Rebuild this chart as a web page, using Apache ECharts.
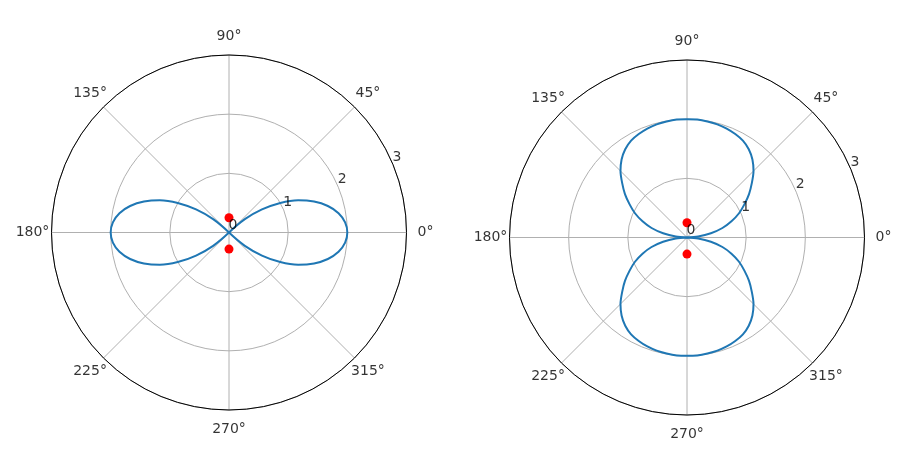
<!DOCTYPE html>
<html><head><meta charset="utf-8">
<script src="https://cdn.jsdelivr.net/npm/echarts@6/dist/echarts.min.js"></script>
<style>html,body{margin:0;padding:0;background:#fff}#c{width:900px;height:466px}</style>
</head><body><div id="c"></div>
<script>
// ---- data ----
const angleTicks = [0, 45, 90, 135, 180, 225, 270, 315];
const radiusTicks = [0, 1, 2, 3];

// left plot: two petals (theta in degrees, r)
const leftPetal1Angles = [315, 320, 325, 330, 335, 340, 345, 350, 355, 0, 5, 10, 15, 20, 25, 30, 35, 40, 45];
const leftPetal1Radii  = [0, 0.35, 0.68, 1.0, 1.29, 1.53, 1.73, 1.88, 1.97, 2.0, 1.97, 1.88, 1.73, 1.53, 1.29, 1.0, 0.68, 0.35, 0];
const leftPetal2Angles = [135, 140, 145, 150, 155, 160, 165, 170, 175, 180, 185, 190, 195, 200, 205, 210, 215, 220, 225];
const leftPetal2Radii  = [0, 0.35, 0.68, 1.0, 1.29, 1.53, 1.73, 1.88, 1.97, 2.0, 1.97, 1.88, 1.73, 1.53, 1.29, 1.0, 0.68, 0.35, 0];

// right plot: two lobes
const rightLobe1Angles = [0, 5, 10, 15, 20, 25, 30, 35, 40, 45, 50, 55, 60, 65, 70, 75, 80, 85, 90,
                          95, 100, 105, 110, 115, 120, 125, 130, 135, 140, 145, 150, 155, 160, 165, 170, 175, 180];
const rightLobe1Radii  = [0, 0.19, 0.41, 0.62, 0.80, 0.97, 1.12, 1.28, 1.43, 1.59, 1.72, 1.82, 1.89, 1.93, 1.96, 1.98, 1.99, 2.0, 2.0,
                          2.0, 1.99, 1.98, 1.96, 1.93, 1.89, 1.82, 1.72, 1.59, 1.43, 1.28, 1.12, 0.97, 0.80, 0.62, 0.41, 0.19, 0];
const rightLobe2Angles = [180, 185, 190, 195, 200, 205, 210, 215, 220, 225, 230, 235, 240, 245, 250, 255, 260, 265, 270,
                          275, 280, 285, 290, 295, 300, 305, 310, 315, 320, 325, 330, 335, 340, 345, 350, 355, 360];
const rightLobe2Radii  = [0, 0.19, 0.41, 0.62, 0.80, 0.97, 1.12, 1.28, 1.43, 1.59, 1.72, 1.82, 1.89, 1.93, 1.96, 1.98, 1.99, 2.0, 2.0,
                          2.0, 1.99, 1.98, 1.96, 1.93, 1.89, 1.82, 1.72, 1.59, 1.43, 1.28, 1.12, 0.97, 0.80, 0.62, 0.41, 0.19, 0];

// red markers (theta, r)
const dotAngles = [90, 270];
const dotRadii = [0.25, 0.28];

// ---- chart ----
const FONT = 'DejaVu Sans';
const FS = 14;
const LINE = '#1f77b4';
const GRID = '#b0b0b0';

function pairs(angles, radii) { return angles.map((a, i) => [radii[i], a]); }

function polarAxes(idx) {
  return {
    angle: {
      polarIndex: idx, type: 'value', min: 0, max: 360, interval: 45,
      startAngle: 0, clockwise: false, z: 1,
      axisLine: { show: true, lineStyle: { color: '#000', width: 1 } },
      axisTick: { show: false },
      axisLabel: { show: false },
      splitLine: { show: true, lineStyle: { color: GRID, width: 1 } }
    },
    radius: {
      polarIndex: idx, type: 'value', min: 0, max: 3, interval: 1, z: 0,
      axisLine: { show: false }, axisTick: { show: false }, axisLabel: { show: false },
      splitLine: { show: true, lineStyle: { color: GRID, width: 1 } }
    }
  };
}

const a0 = polarAxes(0), a1 = polarAxes(1);

function curve(idx, angles, radii, smooth) {
  return {
    type: 'line', coordinateSystem: 'polar', polarIndex: idx,
    data: pairs(angles, radii), showSymbol: false, smooth: smooth,
    lineStyle: { color: LINE, width: 2 }, z: 3, silent: true
  };
}

function dots(idx) {
  return {
    type: 'scatter', coordinateSystem: 'polar', polarIndex: idx,
    data: pairs(dotAngles, dotRadii), symbolSize: 9,
    itemStyle: { color: '#ff0000', opacity: 1 }, z: 4, silent: true
  };
}

function angleLabels(idx) {
  const d = 19;
  return {
    type: 'scatter', coordinateSystem: 'polar', polarIndex: idx, silent: true, z: 5,
    symbolSize: 1, itemStyle: { color: 'transparent' },
    data: angleTicks.map(a => ({
      value: [3, a],
      label: { offset: [d * Math.cos(a * Math.PI / 180), -d * Math.sin(a * Math.PI / 180)] }
    })),
    label: {
      show: true, position: 'inside', align: 'center', verticalAlign: 'middle',
      fontFamily: FONT, fontSize: FS, color: '#000',
      formatter: p => p.value[1] + '°'
    }
  };
}

function radiusLabels(idx) {
  return {
    type: 'scatter', coordinateSystem: 'polar', polarIndex: idx, silent: true, z: 5,
    symbolSize: 1, itemStyle: { color: 'transparent' },
    data: radiusTicks.map(r => [r, 22.5]),
    label: {
      show: true, position: [0, 0], align: 'left', verticalAlign: 'bottom',
      fontFamily: FONT, fontSize: FS, color: '#000',
      formatter: p => String(p.value[0])
    }
  };
}

const chart = echarts.init(document.getElementById('c'), null, { renderer: 'canvas' });
chart.setOption({
  animation: false,
  backgroundColor: '#fff',
  polar: [
    { center: [229, 232.5], radius: 177.5 },
    { center: [687, 237.5], radius: 177.5 }
  ],
  angleAxis: [a0.angle, a1.angle],
  radiusAxis: [a0.radius, a1.radius],
  series: [
    curve(0, leftPetal1Angles, leftPetal1Radii, 0.4),
    curve(0, leftPetal2Angles, leftPetal2Radii, 0.4),
    curve(1, rightLobe1Angles, rightLobe1Radii, 0.3),
    curve(1, rightLobe2Angles, rightLobe2Radii, 0.3),
    dots(0), dots(1),
    angleLabels(0), angleLabels(1),
    radiusLabels(0), radiusLabels(1)
  ]
});
</script></body></html>
